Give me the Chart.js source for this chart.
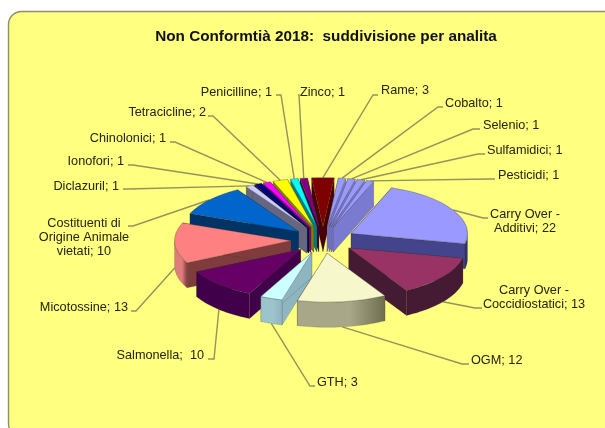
<!DOCTYPE html>
<html>
<head>
<meta charset="utf-8">
<title>Non Conformità 2018</title>
<script src="https://cdn.jsdelivr.net/npm/chart.js@4"></script>
<style>
    html, body { margin: 0; padding: 0; background: #fff; }
    canvas { display: block; }
</style>
</head>
<body>
<canvas id="pieChart" width="605" height="428"></canvas>
<script>
const categories = ["Rame", "Cobalto", "Selenio", "Sulfamidici", "Pesticidi", "Carry Over -\nAdditivi",
    "Carry Over -\nCoccidiostatici", "OGM", "GTH", "Salmonella;", "Micotossine",
    "Costituenti di\nOrigine Animale\nvietati", "Diclazuril", "Ionofori", "Chinolonici",
    "Tetracicline", "Penicilline", "Zinco"];
const values = [3, 1, 1, 1, 1, 22, 13, 12, 3, 10, 13, 10, 1, 1, 1, 2, 1, 1];

// top face, cut faces and outer rim of each slice
const topColors = ["#7f0000", "#9999ff", "#9999ff", "#9999ff", "#9999ff", "#9999ff", "#993366", "#f7f7cc", "#ccffff",
    "#660066", "#ff8080", "#0066cc", "#ccccff", "#000080", "#ff00ff", "#ffff00", "#00ffff", "#800080"];
const sideColors = ["#4a0000", "#7a7ad0", "#7a7ad0", "#7a7ad0", "#7a7ad0", "#44448c", "#451a33", "#6f6f50", "#8fb5c0",
    "#40004a", "#803c3c", "#003366", "#666680", "#000040", "#800080", "#808000", "#008080", "#400040"];
const rimColors = ["#4a0000", "#7a7ad0", "#7a7ad0", "#7a7ad0", "#7a7ad0", "#33336b", "#451a33", "#a8a888", "#9cc4cc",
    "#40004a", "#e07c7c", "#003366", "#666680", "#000040", "#800080", "#808000", "#008080", "#400040"];

// where each label sits: anchor x, first line y, text align
const labelSpots = [
    [381, 90, "left"], [445, 103, "left"], [483, 125, "left"], [487, 150, "left"], [498, 175, "left"],
    [525, 214, "center"], [534, 290, "center"], [471, 360, "left"], [317, 382, "left"], [204, 355, "right"],
    [128, 307, "right"], [84, 223, "center"], [119, 186, "right"], [124, 161, "right"], [166, 138, "right"],
    [206, 112, "right"], [272, 92, "right"], [300, 92, "left"]
];
// start and bend of each leader line, next to its label
const leaderStarts = [
    [378, 95, 373], [443, 107, 438], [480, 129, 473], [485, 154, 478], [495, 179, 488], [488, 218, 483],
    [482, 308, 475], [469, 364, 462], [315, 386, 310], [208, 359, 214], [131, 311, 136], [128, 226, 133],
    [123, 189, 128], [128, 165, 133], [170, 142, 175], [208, 116, 213], [276, 95, 281], [298, 95, 299]
];

const pieX = 323, pieY = 240, squash = 0.42, wallHeight = 25, explode = 32;

function faceMidAngle(arc) {
    return (arc.startAngle + arc.endAngle) / 2;
}

// Screen position of a point on the rim of an exploded slice
function rimPoint(arc, angle, radius, drop = 0) {
    const mid = faceMidAngle(arc);
    return {
        x: pieX + Math.cos(mid) * explode + Math.cos(angle) * radius,
        y: pieY + (Math.sin(mid) * explode + Math.sin(angle) * radius) * squash + drop
    };
}

function drawSlice(ctx, arc, i) {
    const r = arc.outerRadius;
    const apex = rimPoint(arc, 0, 0);

    // the two cut faces
    ctx.strokeStyle = "rgba(40,40,40,0.25)";
    ctx.lineWidth = 0.7;
    [arc.startAngle, arc.endAngle].forEach((a) => {
        const p = rimPoint(arc, a, r);
        ctx.fillStyle = sideColors[i];
        ctx.beginPath();
        ctx.moveTo(apex.x, apex.y);
        ctx.lineTo(p.x, p.y);
        ctx.lineTo(p.x, p.y + wallHeight);
        ctx.lineTo(apex.x, apex.y + wallHeight);
        ctx.closePath();
        ctx.fill();
        ctx.stroke();
    });

    // outer wall, only the part turned towards the viewer
    const from = Math.max(arc.startAngle, 0);
    const to = Math.min(arc.endAngle, Math.PI);
    if (to > from) {
        const a = rimPoint(arc, from, r);
        const b = rimPoint(arc, to, r);
        const shade = ctx.createLinearGradient(Math.min(a.x, b.x), 0, Math.max(a.x, b.x), 0);
        shade.addColorStop(0, rimColors[i]);
        shade.addColorStop(0.6, rimColors[i]);
        shade.addColorStop(1, sideColors[i]);
        ctx.fillStyle = shade;
        ctx.beginPath();
        for (let s = 0; s <= 24; s++) {
            const p = rimPoint(arc, from + (to - from) * s / 24, r);
            s === 0 ? ctx.moveTo(p.x, p.y) : ctx.lineTo(p.x, p.y);
        }
        for (let s = 24; s >= 0; s--) {
            const p = rimPoint(arc, from + (to - from) * s / 24, r, wallHeight);
            ctx.lineTo(p.x, p.y);
        }
        ctx.closePath();
        ctx.fill();
        ctx.stroke();
    }

    // top face comes from the arc element itself, flattened and pushed out
    ctx.save();
    ctx.translate(apex.x, apex.y);
    ctx.scale(1, squash);
    ctx.translate(-arc.x, -arc.y);
    arc.draw(ctx);
    ctx.restore();
}

const pie3d = {
    id: "pie3d",
    beforeDraw(chart) {
        const ctx = chart.ctx;
        ctx.save();
        ctx.fillStyle = "#ffff80";
        ctx.strokeStyle = "#8f8f62";
        ctx.lineWidth = 1.4;
        ctx.beginPath();
        ctx.roundRect(8.5, 11.5, 640, 425, 13);
        ctx.fill();
        ctx.stroke();
        ctx.restore();
    },
    beforeDatasetDraw(chart) {
        const ctx = chart.ctx;
        const arcs = chart.getDatasetMeta(0).data;

        // leader lines go under the slices
        ctx.save();
        ctx.strokeStyle = "#93935c";
        ctx.lineWidth = 1.4;
        arcs.forEach((arc, i) => {
            const end = rimPoint(arc, faceMidAngle(arc), arc.outerRadius);
            const [sx, sy, bend] = leaderStarts[i];
            ctx.beginPath();
            ctx.moveTo(sx, sy);
            ctx.lineTo(bend, sy);
            ctx.lineTo(end.x, end.y + (Math.sin(faceMidAngle(arc)) > 0 ? wallHeight : 0));
            ctx.stroke();
        });

        // far slices first
        const order = arcs.map((arc, i) => i)
            .sort((a, b) => Math.sin(faceMidAngle(arcs[a])) - Math.sin(faceMidAngle(arcs[b])));
        order.forEach((i) => drawSlice(ctx, arcs[i], i));
        ctx.restore();
        return false;
    },
    afterDraw(chart) {
        const ctx = chart.ctx;
        ctx.save();
        ctx.fillStyle = "#24240f";
        ctx.font = "12.7px 'Liberation Sans'";
        ctx.textBaseline = "middle";
        categories.forEach((name, i) => {
            const lines = (name + "; " + values[i]).replace(";;", "; ").split("\n");
            const [x, y, align] = labelSpots[i];
            ctx.textAlign = align;
            lines.forEach((line, n) => ctx.fillText(line, x, y + n * 14));
        });
        ctx.restore();
    }
};

new Chart(document.getElementById("pieChart"), {
    type: "pie",
    data: {
        labels: categories,
        datasets: [{
            data: values,
            backgroundColor: topColors,
            borderColor: "rgba(60,60,50,0.45)",
            borderWidth: 1
        }]
    },
    options: {
        responsive: false,
        animation: false,
        rotation: -5.6,
        radius: 116.5,
        layout: { padding: { left: 47, right: 0, top: 28, bottom: 10 } },
        plugins: {
            legend: { display: false },
            tooltip: { enabled: false },
            title: {
                display: true,
                text: "Non Conformtià 2018:  suddivisione per analita",
                color: "#111",
                font: { family: "'Liberation Sans'", size: 15.3, weight: "bold" },
                padding: { top: 0, bottom: 0 }
            }
        }
    },
    plugins: [pie3d]
});
</script>
</body>
</html>
